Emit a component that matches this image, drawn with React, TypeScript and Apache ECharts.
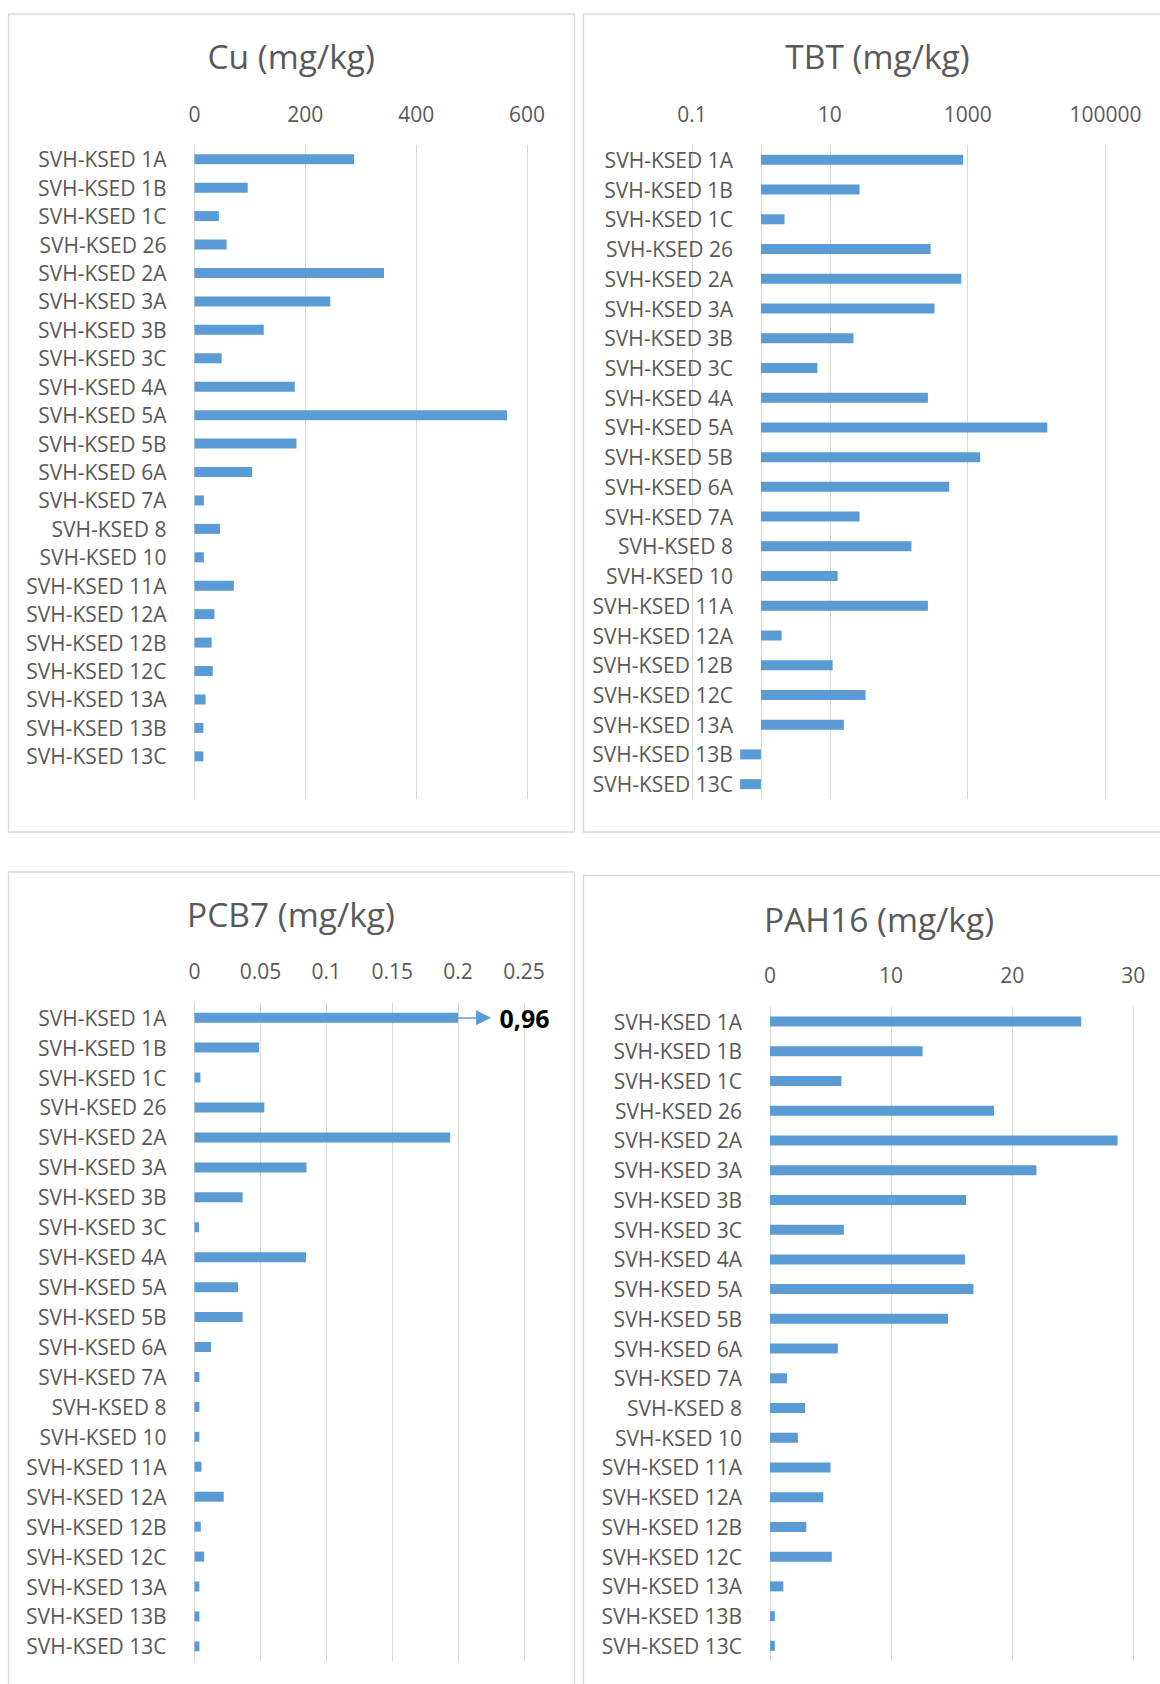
import React, { useEffect, useRef } from 'react';
import * as echarts from 'echarts';

// ---------- data ----------
const sites = [
  'SVH-KSED 1A', 'SVH-KSED 1B', 'SVH-KSED 1C', 'SVH-KSED 26', 'SVH-KSED 2A', 'SVH-KSED 3A',
  'SVH-KSED 3B', 'SVH-KSED 3C', 'SVH-KSED 4A', 'SVH-KSED 5A', 'SVH-KSED 5B', 'SVH-KSED 6A',
  'SVH-KSED 7A', 'SVH-KSED 8', 'SVH-KSED 10', 'SVH-KSED 11A', 'SVH-KSED 12A', 'SVH-KSED 12B',
  'SVH-KSED 12C', 'SVH-KSED 13A', 'SVH-KSED 13B', 'SVH-KSED 13C',
];
// Cu chart has one trailing empty category row
const cuCategories = [...sites, ''];

const cu = [288, 96, 44, 58, 342, 245, 125, 49, 181, 564, 184, 104, 17, 46, 17, 71, 36, 31, 33, 20, 16, 16];
const tbt = [860, 27, 2.2, 290, 810, 330, 22, 6.6, 265, 14300, 1520, 540, 27, 153, 13, 265, 2.0, 11, 33, 16, 0.5, 0.5];
const pcb7 = [0.96, 0.049, 0.0045, 0.053, 0.194, 0.085, 0.0365, 0.0034, 0.0846, 0.033, 0.0365, 0.0126, 0.0037, 0.0037, 0.0037, 0.0053, 0.0222, 0.0048, 0.0073, 0.0037, 0.0037, 0.0037];
const pah16 = [25.7, 12.6, 5.9, 18.5, 28.7, 22.0, 16.2, 6.1, 16.1, 16.8, 14.7, 5.6, 1.4, 2.9, 2.3, 5.0, 4.4, 3.0, 5.1, 1.1, 0.4, 0.4];

const cuTicks = [0, 200, 400, 600];
const tbtTicks = [0.1, 10, 1000, 100000];
const pcb7Ticks = [0, 0.05, 0.1, 0.15, 0.2, 0.25];
const pah16Ticks = [0, 10, 20, 30];

const titles = ['Cu (mg/kg)', 'TBT (mg/kg)', 'PCB7 (mg/kg)', 'PAH16 (mg/kg)'];

// PCB7 bars are cut at this value, with an arrow pointing to the true value
const pcb7Cap = 0.2;
const pcb7ArrowTip = 0.2193;

// ---------- styles ----------
const GRID = '#d9d9d9';
const TEXT = '#595959';
const BAR = '#5b9bd5';
const FONT = 'Open Sans';
const LABEL_SIZE = 21;
const TITLE_SIZE = 33.5;

const grids = [
  { left: 194.5, top: 145, width: 332.5, height: 654 },
  { left: 692, top: 145, width: 413.5, height: 654 },
  { left: 194.5, top: 1002.7, width: 329.5, height: 658.7 },
  { left: 770, top: 1006.7, width: 363.3, height: 654 },
];

const fmtNum = (v: number) => String(+v.toPrecision(6));

function valueAxis(gridIndex: number, ticks: number[]) {
  return {
    type: 'value',
    gridIndex,
    position: 'top',
    min: ticks[0],
    max: ticks[ticks.length - 1],
    interval: ticks[1] - ticks[0],
    axisLine: { show: false },
    axisTick: { show: false },
    axisLabel: { color: TEXT, fontSize: LABEL_SIZE, fontFamily: FONT, margin: 21, formatter: (v: number) => fmtNum(v) },
    splitLine: { show: true, lineStyle: { color: GRID, width: 1 } },
  };
}

function catAxis(gridIndex: number, data: string[], extra: any = {}) {
  return {
    type: 'category',
    gridIndex,
    data,
    inverse: true,
    axisTick: { show: false },
    axisLine: { show: true, onZero: false, lineStyle: { color: GRID, width: 1 } },
    axisLabel: { color: TEXT, fontSize: LABEL_SIZE, fontFamily: FONT, margin: 28, interval: 0 },
    splitLine: { show: false },
    ...extra,
  };
}

const tbtDecadePx =
  grids[1].width * (0 - Math.log10(tbtTicks[0])) /
  (Math.log10(tbtTicks[tbtTicks.length - 1]) - Math.log10(tbtTicks[0]));

const option: any = {
  animation: false,
  backgroundColor: '#ffffff',
  textStyle: { fontFamily: FONT },
  grid: grids.map((g) => ({ ...g, containLabel: false, outerBoundsMode: 'none' })),
  xAxis: [
    valueAxis(0, cuTicks),
    {
      type: 'log',
      logBase: 10,
      gridIndex: 1,
      position: 'top',
      min: tbtTicks[0],
      max: tbtTicks[tbtTicks.length - 1],
      axisLine: { show: false },
      axisTick: { show: false },
      axisLabel: {
        color: TEXT,
        fontSize: LABEL_SIZE,
        fontFamily: FONT,
        margin: 21,
        formatter: (v: number) => {
          const hit = tbtTicks.find((t) => Math.abs(Math.log10(t) - Math.log10(v)) < 1e-6);
          return hit === undefined ? '' : fmtNum(hit);
        },
      },
      splitLine: { show: true, lineStyle: { color: [GRID, 'rgba(0,0,0,0)'], width: 1 } },
    },
    valueAxis(2, pcb7Ticks),
    valueAxis(3, pah16Ticks),
  ],
  yAxis: [
    catAxis(0, cuCategories),
    catAxis(1, sites, { offset: -tbtDecadePx }),
    catAxis(2, sites),
    catAxis(3, sites),
  ],
  series: [
    { type: 'bar', name: 'Cu', xAxisIndex: 0, yAxisIndex: 0, data: cu, barWidth: 10, itemStyle: { color: BAR }, silent: true },
    { type: 'bar', name: 'TBT', xAxisIndex: 1, yAxisIndex: 1, data: tbt, barWidth: 10, itemStyle: { color: BAR }, silent: true },
    {
      type: 'bar',
      name: 'PCB7',
      xAxisIndex: 2,
      yAxisIndex: 2,
      data: pcb7.map((v) => Math.min(v, pcb7Cap)),
      barWidth: 10,
      itemStyle: { color: BAR },
      silent: true,
      markLine: {
        silent: true,
        animation: false,
        symbol: ['none', 'triangle'],
        symbolSize: 15,
        lineStyle: { color: BAR, width: 1.5, type: 'solid' },
        label: {
          show: true,
          position: 'end',
          distance: 16,
          formatter: String(pcb7[0]).replace('.', ','),
          color: '#000000',
          fontWeight: 'bold',
          fontSize: 25,
          fontFamily: FONT,
        },
        data: [[{ coord: [pcb7Cap, sites[0]] }, { coord: [pcb7ArrowTip, sites[0]] }]],
      },
    },
    { type: 'bar', name: 'PAH16', xAxisIndex: 3, yAxisIndex: 3, data: pah16, barWidth: 10, itemStyle: { color: BAR }, silent: true },
  ],
  graphic: [
    { type: 'rect', silent: true, shape: { x: 8.5, y: 14, width: 566, height: 818 }, style: { fill: 'none', stroke: GRID, lineWidth: 1.3 } },
    { type: 'rect', silent: true, shape: { x: 583.5, y: 14, width: 700, height: 818 }, style: { fill: 'none', stroke: GRID, lineWidth: 1.3 } },
    { type: 'rect', silent: true, shape: { x: 8.5, y: 872, width: 566, height: 900 }, style: { fill: 'none', stroke: GRID, lineWidth: 1.3 } },
    { type: 'rect', silent: true, shape: { x: 583.5, y: 875.5, width: 700, height: 900 }, style: { fill: 'none', stroke: GRID, lineWidth: 1.3 } },
    ...[
      [291.2, 56],
      [877.5, 56],
      [291, 914],
      [879, 918.5],
    ].map(([x, y], i) => ({
      type: 'text',
      silent: true,
      x,
      y,
      style: {
        text: titles[i],
        fill: TEXT,
        fontSize: TITLE_SIZE,
        fontFamily: FONT,
        textAlign: 'center',
        textVerticalAlign: 'middle',
        align: 'center',
        verticalAlign: 'middle',
      },
    })),
  ],
};

export default function App() {
  const ref = useRef<HTMLDivElement>(null);
  useEffect(() => {
    if (!ref.current) return;
    const chart = echarts.init(ref.current, null, { renderer: 'svg' });
    chart.setOption(option);
    return () => chart.dispose();
  }, []);
  return (
    <div
      ref={ref}
      style={{ position: 'absolute', left: 0, top: 0, width: 1160, height: 1684, background: '#ffffff' }}
    />
  );
}
